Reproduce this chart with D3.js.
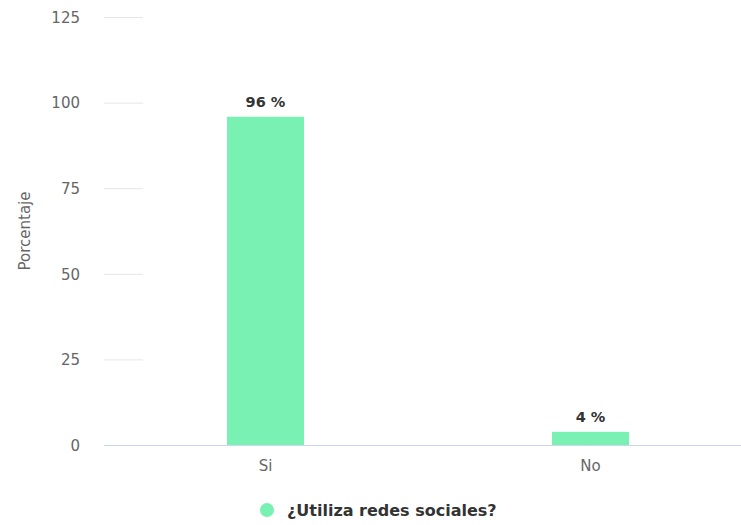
<!DOCTYPE html>
<html>
<head>
<meta charset="utf-8">
<script src="https://cdn.jsdelivr.net/npm/d3@7"></script>
<style>
body { margin: 0; background: #fff; }
text { font-family: "DejaVu Sans", sans-serif; }
</style>
</head>
<body>
<div id="chart"></div>
<script>
var categories = ["Si", "No"];
var values = [96, 4];
var yTicks = [0, 25, 50, 75, 100, 125];
var seriesName = "¿Utiliza redes sociales?";

var width = 741, height = 525;
var svg = d3.select("#chart").append("svg")
    .attr("width", width)
    .attr("height", height);

var x = d3.scaleBand().domain(categories).range([103, 753]).paddingInner(0).paddingOuter(0);
var y = d3.scaleLinear().domain([0, 125]).range([445.5, 17.5]);

// short grid marks
svg.append("g").selectAll("line")
    .data(yTicks.filter(function(d) { return d > 0; }))
    .enter().append("line")
    .attr("x1", 104).attr("x2", 143)
    .attr("y1", function(d) { return y(d); })
    .attr("y2", function(d) { return y(d); })
    .style("stroke", "#e6e6e6");

var yAxis = svg.append("g")
    .attr("transform", "translate(80,0)")
    .call(d3.axisLeft(y).tickValues(yTicks).tickSize(0).tickPadding(0));
yAxis.select(".domain").remove();
yAxis.selectAll("text")
    .style("font-size", "15px")
    .style("fill", "#666");

svg.append("text")
    .attr("transform", "translate(30,231) rotate(-90)")
    .attr("text-anchor", "middle")
    .style("font-size", "15px")
    .style("fill", "#666")
    .text("Porcentaje");

svg.append("g").selectAll("rect")
    .data(values)
    .enter().append("rect")
    .attr("x", function(d, i) { return x(categories[i]) + x.bandwidth() / 2 - 38.5; })
    .attr("width", 77)
    .attr("y", function(d) { return y(d); })
    .attr("height", function(d) { return y(0) - y(d); })
    .style("fill", "#78f1b3");

svg.append("line")
    .attr("x1", 104).attr("x2", width)
    .attr("y1", y(0)).attr("y2", y(0))
    .style("stroke", "#ccd6eb");

var xAxis = svg.append("g")
    .attr("transform", "translate(0," + (y(0) + 15) + ")")
    .call(d3.axisBottom(x).tickSize(0).tickPadding(0));
xAxis.select(".domain").remove();
xAxis.selectAll("text")
    .style("font-size", "15px")
    .style("fill", "#666");

svg.append("g").selectAll("text")
    .data(values)
    .enter().append("text")
    .attr("x", function(d, i) { return x(categories[i]) + x.bandwidth() / 2; })
    .attr("y", function(d) { return y(d) - 9.5; })
    .attr("text-anchor", "middle")
    .style("font-size", "14.5px")
    .style("font-weight", "bold")
    .style("fill", "#333")
    .text(function(d) { return d + " %"; });

svg.append("circle")
    .attr("cx", 267).attr("cy", 510).attr("r", 7)
    .style("fill", "#78f1b3");
svg.append("text")
    .attr("x", 287).attr("y", 516)
    .style("font-size", "16px")
    .style("font-weight", "bold")
    .style("fill", "#333")
    .text(seriesName);
</script>
</body>
</html>
